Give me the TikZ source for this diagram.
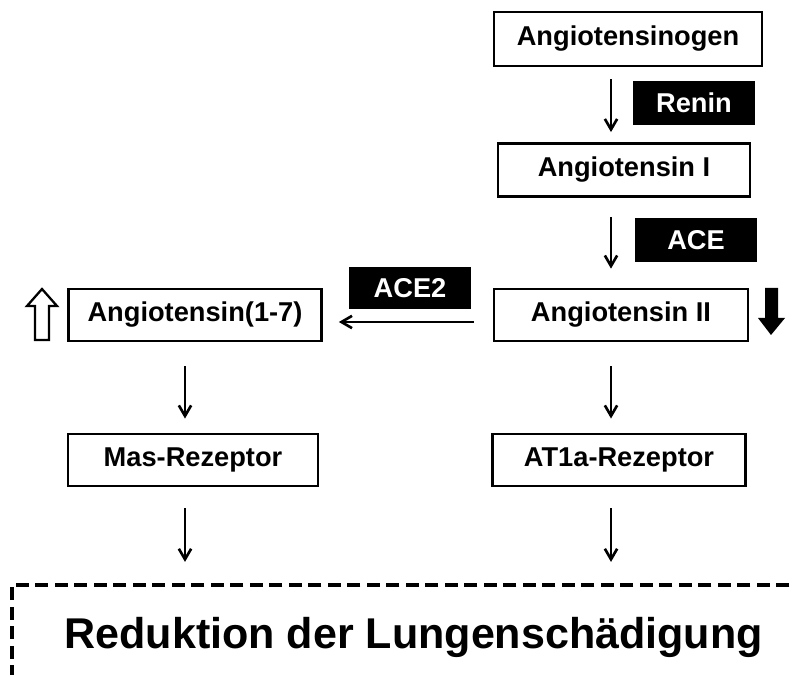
\documentclass[tikz,border=0pt]{standalone}
\usepackage{fontspec}
\setmainfont{Liberation Sans}
\usetikzlibrary{arrows.meta}
\usetikzlibrary{positioning}

\begin{document}
\begin{tikzpicture}[x=0.02cm, y=-0.02cm, >={Straight Barb[length=6pt, width=7pt]}, every node/.style={font=\fontsize{15.5}{18}\selectfont\bfseries}]
		\tikzstyle{box}=[draw, line width=1.6pt, minimum width=5.06cm, minimum height=1.04cm, inner sep=0pt]
		\tikzstyle{enzyme}=[fill=black, text=white, minimum width=2.44cm, minimum height=0.88cm, inner sep=0pt]
		\useasboundingbox (0,0) rectangle (794,675);
		
		\node[box, minimum width=5.36cm, minimum height=1.08cm] (agt)  at (628, 39) {Angiotensinogen};
		\node[box, minimum width=5.04cm, minimum height=1.06cm] (ang1) at (624,170) {Angiotensin I};
		\node[box, minimum width=5.08cm]                        (ang2) at (621,315) {Angiotensin II};
		\node[box]                                              (a17)  at (195,315) {Angiotensin(1-7)};
		\node[box, minimum width=5.0cm]                         (mas)  at (193,460) {Mas-Rezeptor};
		\node[box]                                              (at1a) at (619,460) {AT1a-Rezeptor};
		
		\node[enzyme]                         (renin) at (694,103) {Renin};
		\node[enzyme, minimum height=0.9cm]   (ace)   at (696,240) {ACE};
		\node[enzyme, minimum height=0.84cm]  (ace2)  at (410,288) {ACE2};
		
		\node[draw, line width=2pt, dash pattern=on 7.4pt off 3.7pt, anchor=north west,
		      minimum width=16.08cm, minimum height=2.12cm,
		      font=\fontsize{24.5}{28}\selectfont\bfseries] (lung) at (10,583) {Reduktion der Lungenschädigung};
		
		\coordinate (rcol) at (611,0);
		\coordinate (lcol) at (185,0);
		\coordinate (hrow) at (0,322);
		
		\path[->, line width=1.5pt]
		(agt.south -| rcol)  edge [shorten <=6.8pt, shorten >=5.7pt]  (ang1.north -| rcol)
		(ang1.south -| rcol) edge [shorten <=10.8pt, shorten >=10.8pt] (ang2.north -| rcol)
		(ang2.west |- hrow)  edge [shorten <=10.8pt, shorten >=9.1pt]  (a17.east |- hrow)
		(a17.south -| lcol)  edge [shorten <=13.7pt, shorten >=8pt]    (mas.north -| lcol)
		(ang2.south -| rcol) edge [shorten <=13.7pt, shorten >=8pt]    (at1a.north -| rcol)
		(mas.south -| lcol)  edge [shorten <=12pt, shorten >=12pt]     (lung.north -| lcol)
		(at1a.south -| rcol) edge [shorten <=12pt, shorten >=12pt]     (lung.north -| rcol)
		;
		
		% up / down markers
		\draw[line width=1.3pt, fill=white] (42,289) -- (57,306) -- (49,306) -- (49,340) -- (35,340) -- (35,306) -- (27,306) -- cycle;
		\fill (771,335) -- (785,318) -- (778,318) -- (778,288) -- (765,288) -- (765,318) -- (758,318) -- cycle;
\end{tikzpicture}
\end{document}
